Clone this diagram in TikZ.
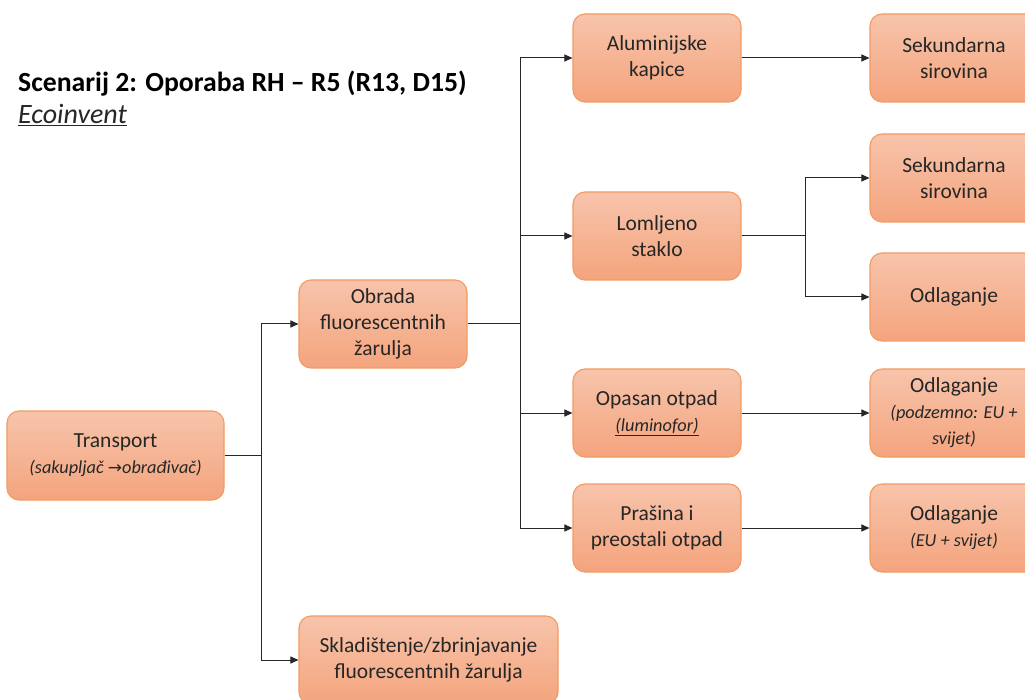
\documentclass[tikz,border=0pt]{standalone}
\usepackage{fontspec}
\setmainfont{Carlito}
\newfontfamily\dejavu{DejaVu Sans}
\usetikzlibrary{arrows.meta}
\definecolor{boxtop}{HTML}{F7C4AB}
\definecolor{boxbot}{HTML}{F4A47D}
\definecolor{boxline}{HTML}{F29B62}
\definecolor{txt}{HTML}{262626}
\newcommand{\subf}{\fontsize{18.3}{22.5}\selectfont\itshape}
\tikzset{
  box/.style={rectangle, rounded corners=12pt, draw=boxline, line width=1.1pt,
    top color=boxtop, bottom color=boxbot, minimum width=168pt, minimum height=88pt,
    align=center, font=\fontsize{21.5}{26}\selectfont, text=txt, inner sep=2pt},
  conn/.style={line width=1pt, draw=black!85},
  arr/.style={conn, -{Triangle[length=8pt,width=7pt]}},
}
\begin{document}
\begin{tikzpicture}[x=1pt,y=-1pt]
\useasboundingbox (0,0) rectangle (1025,700);
\clip (0,0) rectangle (1025,700);
\fill[white] (0,0) rectangle (1025,700);

\node[anchor=base west, font=\fontsize{27.7}{32}\selectfont\bfseries, text=black, inner sep=0pt] (title) at (18,92) {Scenarij 2: Oporaba RH – R5 (R13, D15)};
\node[anchor=base west, font=\fontsize{28}{32}\selectfont\itshape, text=txt, inner sep=0pt] (eco) at (18,124) {\underline{Ecoinvent}};

\node[box, minimum width=217pt, minimum height=89pt] (tr) at (115.5,455.5) {Transport\\\subf (sakupljač {\dejavu\fontsize{17}{20}\selectfont →}obrađivač)};
\node[box] (ob) at (383,324) {Obrada\\fluorescentnih\\žarulja};
\node[box, minimum width=259pt] (sk) at (428.5,660) {Skladištenje/zbrinjavanje\\fluorescentnih žarulja};

\node[box] (al) at (657,58) {Aluminijske\\kapice};
\node[box] (lo) at (657,236) {Lomljeno\\staklo};
\node[box] (op) at (657,413) {Opasan otpad\\\subf \underline{(luminofor)}};
\node[box] (pr) at (657,528) {Prašina i\\preostali otpad};

\node[box] (s1) at (954,58) {Sekundarna\\sirovina};
\node[box] (s2) at (954,178) {Sekundarna\\sirovina};
\node[box] (o1) at (954,297) {Odlaganje};
\node[box] (o2) at (954,413) {Odlaganje\\\subf (podzemno: EU +\\\subf svijet)};
\node[box] (o3) at (954,528) {Odlaganje\\\subf (EU + svijet)};

\coordinate (j1) at (261,455.5);
\coordinate (j2) at (520,324);
\coordinate (j3) at (805,236);

\draw[conn] (tr.east) -- (j1);
\draw[arr] (j1) |- (ob.west);
\draw[arr] (j1) |- (sk.west);

\draw[conn] (ob.east) -- (j2);
\draw[arr] (j2) |- (al.west);
\draw[arr] (j2) |- (lo.west);
\draw[arr] (j2) |- (op.west);
\draw[arr] (j2) |- (pr.west);

\draw[arr] (al.east) -- (s1.west);
\draw[conn] (lo.east) -- (j3);
\draw[arr] (j3) |- (s2.west);
\draw[arr] (j3) |- (o1.west);
\draw[arr] (op.east) -- (o2.west);
\draw[arr] (pr.east) -- (o3.west);
\end{tikzpicture}
\end{document}
